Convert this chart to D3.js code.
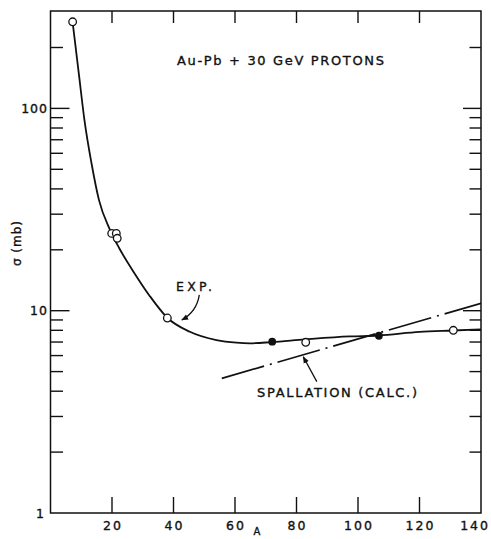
<!DOCTYPE html>
<html>
<head>
<meta charset="utf-8">
<script src="https://cdn.jsdelivr.net/npm/d3@7"></script>
<style>
  body { margin: 0; background: #fff; }
  svg { display: block; font-family: "DejaVu Sans", sans-serif; }
</style>
</head>
<body>
<div id="chart"></div>
<script>
// open circles (measured A, sigma in mb)
const openA = [7.2, 19.9, 21.4, 21.7, 38, 83, 131]
const openSigma = [268, 24.1, 24.1, 22.8, 9.2, 6.98, 8.0]
// filled circles
const filledA = [72.1, 106.8]
const filledSigma = [7.03, 7.52]
const curveA = [7.18, 9.26, 11.04, 13.32, 15.75, 19.33, 22.41, 27.45, 32.32, 37.97, 45.31, 53.99, 60.48, 64.8, 71.95, 82.67, 97.3, 106.7, 120, 130.8, 140]
const curveSigma = [268, 146.3, 87.6, 53.7, 35.3, 25.1, 20.3, 15.2, 11.8, 9.23, 7.87, 7.16, 6.95, 6.9, 7.0, 7.21, 7.46, 7.54, 7.85, 7.98, 8.09]
// spallation calculation (straight on the log plot)
const spallA = [55.7, 140]
const spallSigma = [4.63, 10.88]

const xTicks = [20, 40, 60, 80, 100, 120, 140]
const yMajor = [1, 10, 100]
const yMinor = [2, 3, 4, 5, 6, 7, 8, 9, 20, 30, 40, 50, 60, 70, 80, 90, 200]

const W = 491, H = 539
const pLeft = 50.5, pRight = 481, pTop = 11, pBottom = 513

const svg = d3.select("#chart").append("svg")
    .attr("width", W)
    .attr("height", H)

const x = d3.scaleLinear().domain([0, 140]).range([pLeft, pRight])
const y = d3.scaleLog().domain([1, 303]).range([pBottom, pTop])

const ink = "#111"

svg.append("defs").append("marker")
    .attr("id", "head")
    .attr("viewBox", "0 0 10 10")
    .attr("refX", 9).attr("refY", 5)
    .attr("markerWidth", 7).attr("markerHeight", 7)
    .attr("markerUnits", "userSpaceOnUse")
    .attr("orient", "auto")
    .append("path")
    .attr("d", "M0,1 L10,5 L0,9 Z")
    .attr("fill", ink)

svg.append("clipPath").attr("id", "plot")
    .append("rect")
    .attr("x", pLeft).attr("y", pTop)
    .attr("width", pRight - pLeft).attr("height", pBottom - pTop)

// frame
svg.append("rect")
    .attr("x", pLeft).attr("y", pTop)
    .attr("width", pRight - pLeft).attr("height", pBottom - pTop)
    .attr("fill", "none")
    .attr("stroke", ink)
    .attr("stroke-width", 1.5)

// x ticks, inward on bottom and top
const xIn = xTicks.filter(d => d < 140)
svg.append("g").selectAll("line")
    .data(xIn).enter().append("line")
    .attr("x1", d => x(d)).attr("x2", d => x(d))
    .attr("y1", pBottom).attr("y2", pBottom - 16)
    .attr("stroke", ink).attr("stroke-width", 1.4)
svg.append("g").selectAll("line")
    .data(xIn).enter().append("line")
    .attr("x1", d => x(d)).attr("x2", d => x(d))
    .attr("y1", pTop).attr("y2", pTop + 12)
    .attr("stroke", ink).attr("stroke-width", 1.4)

const lab = sel => sel
    .attr("fill", ink)
    .attr("stroke", ink)
    .attr("stroke-width", 0.35)

svg.append("g").selectAll("text")
    .data(xTicks).enter().append("text")
    .attr("x", d => d === 140 ? 490 : x(d) + 1)
    .attr("y", 530)
    .attr("text-anchor", d => d === 140 ? "end" : "middle")
    .attr("font-size", 12.5)
    .attr("letter-spacing", 2)
    .call(lab)
    .text(d => d)

// y ticks on both sides
const yTicks = yMajor.filter(d => d > 1).map(d => ({ v: d, len: 19 }))
    .concat(yMinor.map(d => ({ v: d, len: 12.5 })))
svg.append("g").selectAll("line")
    .data(yTicks).enter().append("line")
    .attr("x1", pLeft).attr("x2", d => pLeft + d.len)
    .attr("y1", d => y(d.v)).attr("y2", d => y(d.v))
    .attr("stroke", ink).attr("stroke-width", 1.4)
svg.append("g").selectAll("line")
    .data(yTicks).enter().append("line")
    .attr("x1", pRight).attr("x2", d => pRight - d.len + 1)
    .attr("y1", d => y(d.v)).attr("y2", d => y(d.v))
    .attr("stroke", ink).attr("stroke-width", 1.4)

svg.append("g").selectAll("text")
    .data(yMajor).enter().append("text")
    .attr("x", d => d === 1 ? 45 : 48)
    .attr("y", d => y(d))
    .attr("dy", "0.36em")
    .attr("text-anchor", "end")
    .attr("font-size", 12.5)
    .attr("letter-spacing", 1)
    .call(lab)
    .text(d => d)

// axis titles
svg.append("text")
    .attr("transform", "translate(21,243) rotate(-90)")
    .attr("text-anchor", "middle")
    .attr("font-size", 12)
    .attr("letter-spacing", 1)
    .call(lab)
    .text("σ (mb)")

svg.append("text")
    .attr("x", 257).attr("y", 535)
    .attr("text-anchor", "middle")
    .attr("font-size", 10)
    .call(lab)
    .text("A")

// curves
const plot = svg.append("g").attr("clip-path", "url(#plot)")

const line = d3.line()
    .x(d => x(d[0]))
    .y(d => y(d[1]))

plot.append("path")
    .datum(curveA.map((a, i) => [a, curveSigma[i]]))
    .attr("d", line.curve(d3.curveMonotoneX))
    .attr("fill", "none")
    .attr("stroke", ink)
    .attr("stroke-width", 1.8)

plot.append("path")
    .datum(spallA.map((a, i) => [a, spallSigma[i]]))
    .attr("d", d3.line().x(d => x(d[0])).y(d => y(d[1])))
    .attr("fill", "none")
    .attr("stroke", ink)
    .attr("stroke-width", 1.7)
    .attr("stroke-dasharray", "44,6,2,6")

// points
svg.append("g").selectAll("circle")
    .data(openA.map((a, i) => [a, openSigma[i]]))
    .enter().append("circle")
    .attr("cx", d => x(d[0]))
    .attr("cy", d => y(d[1]))
    .attr("r", 3.8)
    .attr("fill", "#fff")
    .attr("stroke", ink)
    .attr("stroke-width", 1.3)

svg.append("g").selectAll("circle")
    .data(filledA.map((a, i) => [a, filledSigma[i]]))
    .enter().append("circle")
    .attr("cx", d => x(d[0]))
    .attr("cy", d => y(d[1]))
    .attr("r", 3.9)
    .attr("fill", ink)

// labels
svg.append("text")
    .attr("x", 177).attr("y", 65)
    .attr("font-size", 13)
    .attr("textLength", 207)
    .attr("lengthAdjust", "spacing")
    .call(lab)
    .text("Au-Pb + 30 GeV PROTONS")

svg.append("text")
    .attr("x", 176).attr("y", 291)
    .attr("font-size", 12.5)
    .attr("textLength", 36)
    .attr("lengthAdjust", "spacing")
    .call(lab)
    .text("EXP.")

svg.append("text")
    .attr("x", 257).attr("y", 397)
    .attr("font-size", 13)
    .attr("textLength", 160)
    .attr("lengthAdjust", "spacing")
    .call(lab)
    .text("SPALLATION (CALC.)")

// annotation arrows (in data units)
const expArrow = [[48.4, 11.96], [47.5, 9.85], [42.7, 9.0]]
svg.append("path")
    .attr("d", "M" + x(expArrow[0][0]) + "," + y(expArrow[0][1]) +
        " Q" + x(expArrow[1][0]) + "," + y(expArrow[1][1]) +
        " " + x(expArrow[2][0]) + "," + y(expArrow[2][1]))
    .attr("fill", "none")
    .attr("stroke", ink)
    .attr("stroke-width", 1.3)
    .attr("marker-end", "url(#head)")

const spallArrow = [[86.6, 4.46], [82.2, 5.92]]
svg.append("path")
    .attr("d", line.curve(d3.curveLinear)(spallArrow))
    .attr("fill", "none")
    .attr("stroke", ink)
    .attr("stroke-width", 1.3)
    .attr("marker-end", "url(#head)")
</script>
</body>
</html>
